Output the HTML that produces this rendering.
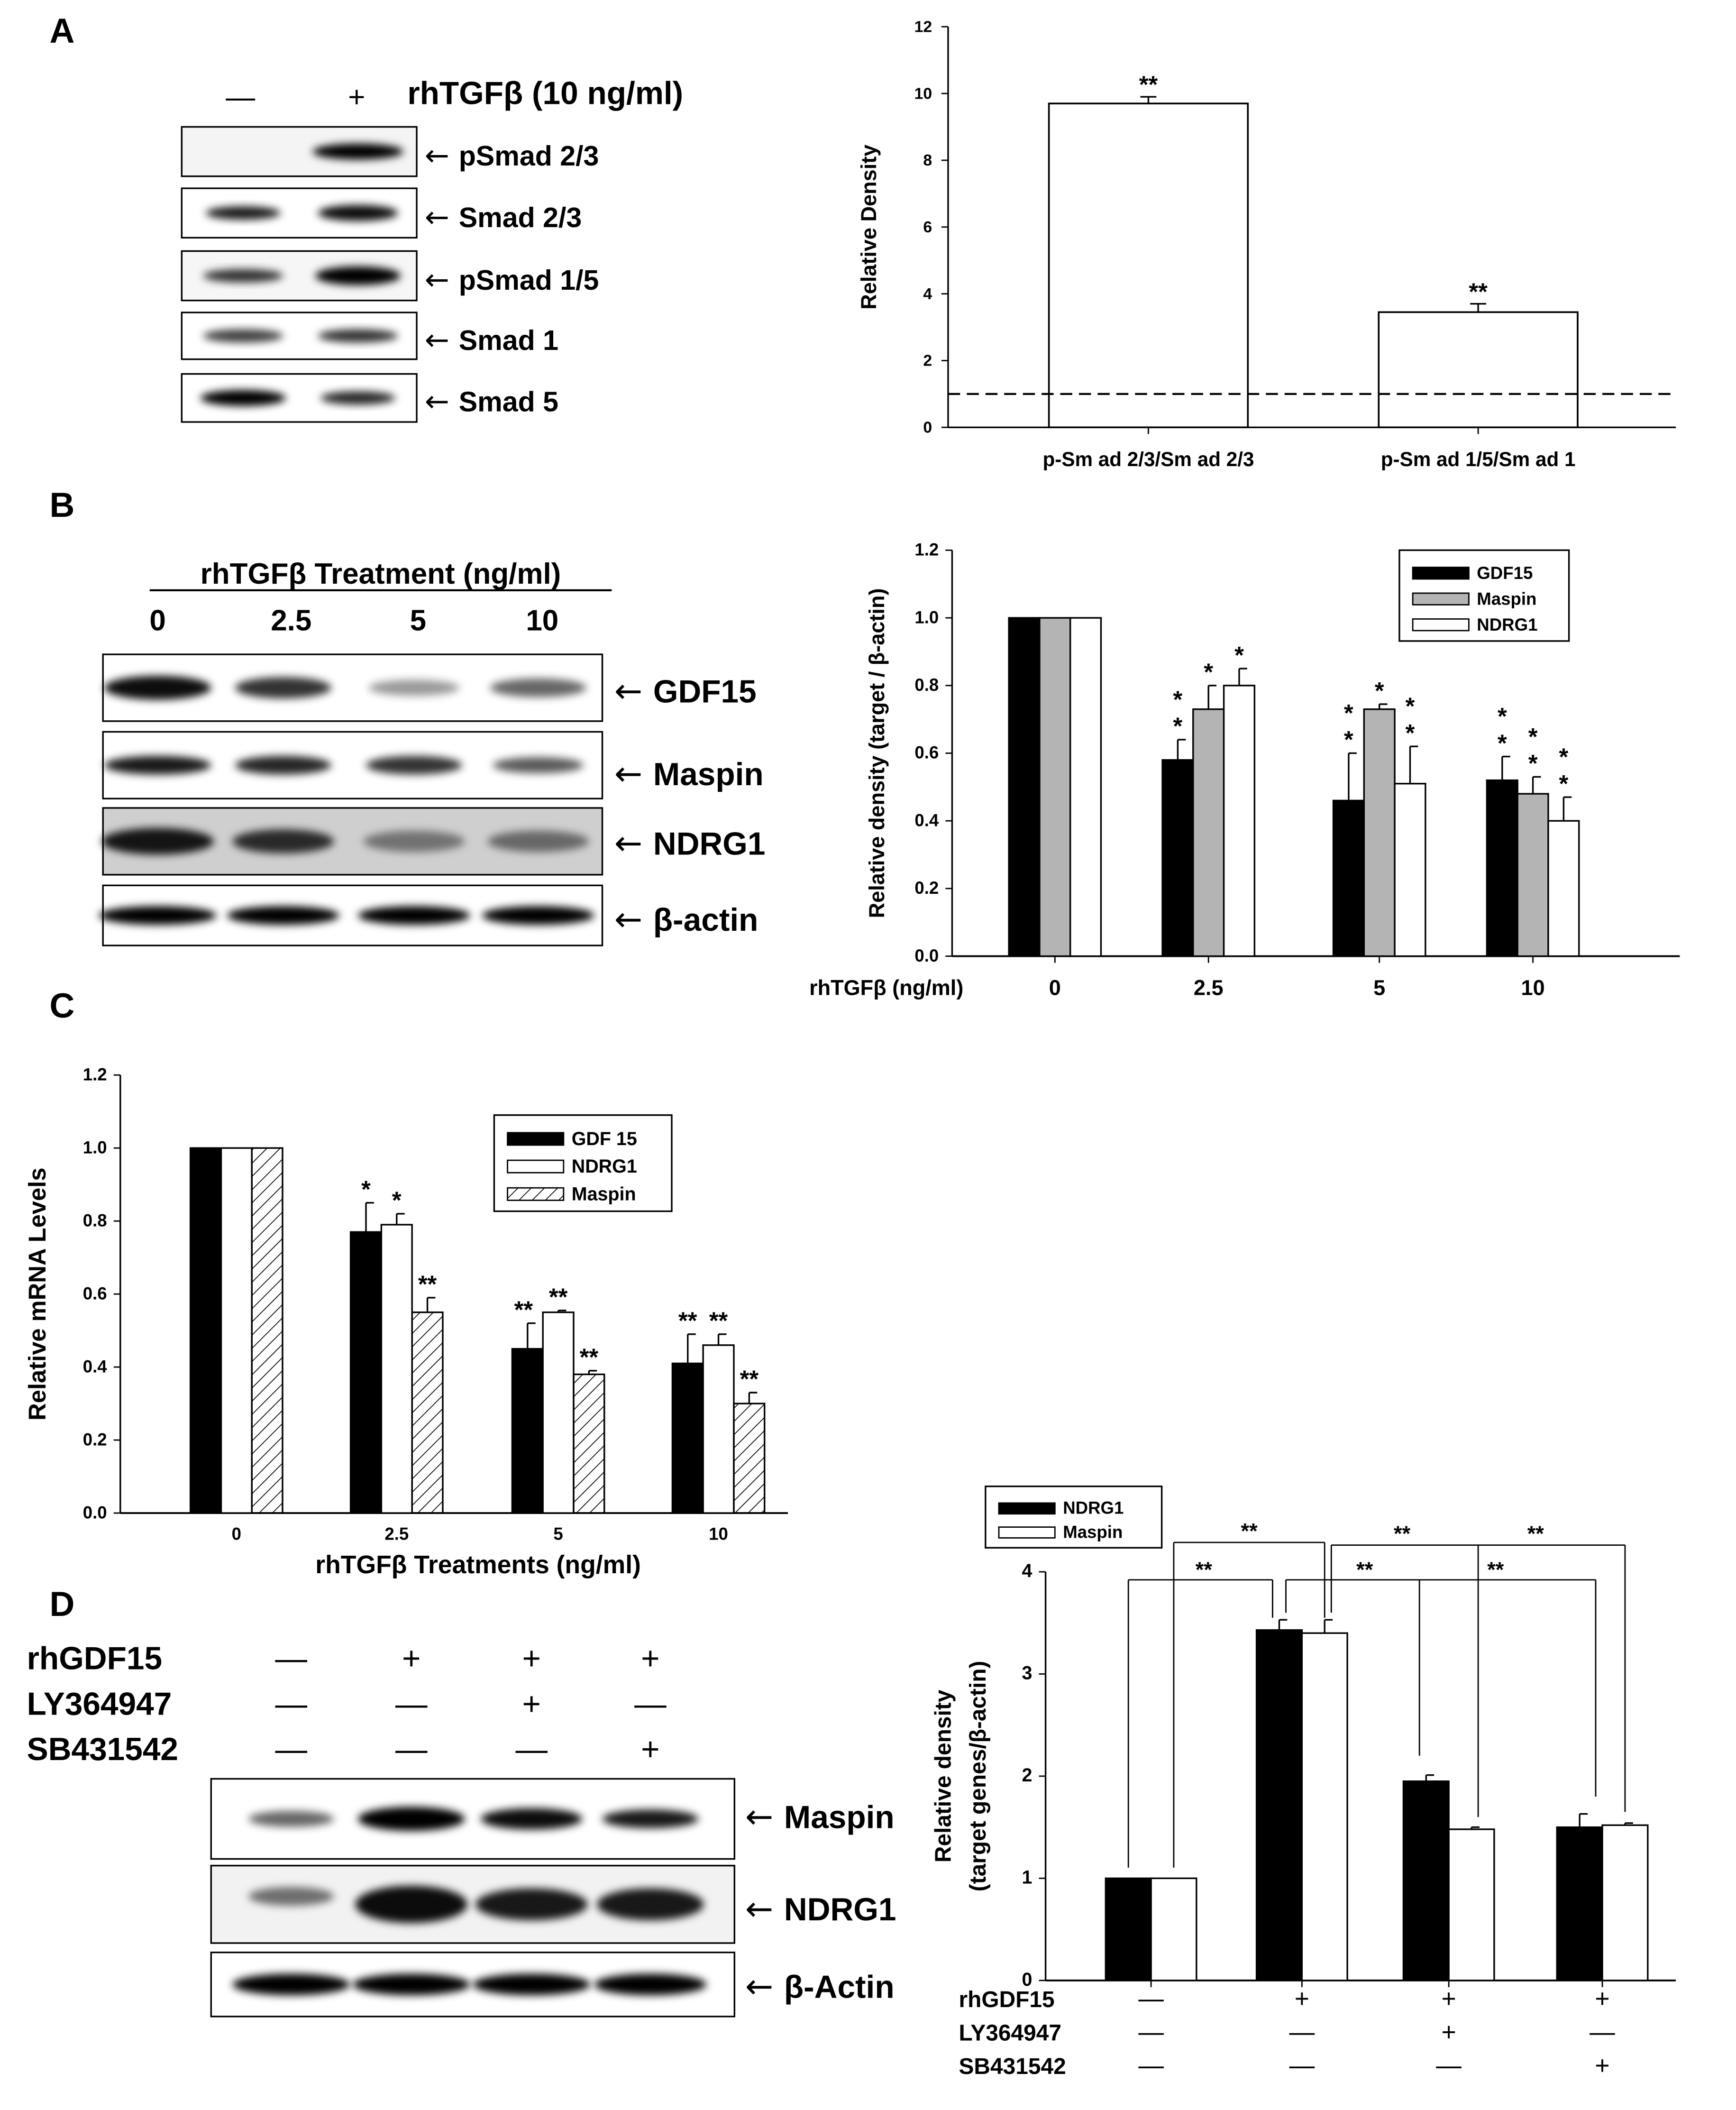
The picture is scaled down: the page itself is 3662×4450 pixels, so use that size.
<!DOCTYPE html>
<html><head><meta charset="utf-8">
<style>
html,body{margin:0;padding:0;background:#fff;}
svg{display:block;font-family:"Liberation Sans",Arial,sans-serif;}
</style></head>
<body>
<svg id="fig" width="3662" height="4450" viewBox="0 0 1300 1580" xmlns="http://www.w3.org/2000/svg">
<defs>
<filter id="blur" x="-20%" y="-50%" width="140%" height="200%"><feGaussianBlur stdDeviation="3"/></filter>
<pattern id="hatch" width="7" height="7" patternUnits="userSpaceOnUse" patternTransform="rotate(45)">
<line x1="0" y1="0" x2="0" y2="7" stroke="#000" stroke-width="1.2"/></pattern>
</defs>
<g id="root"></g>
</svg>
<script>
// ---------- DATA ----------
const aCats = ["p-Sm ad 2/3/Sm ad 2/3","p-Sm ad 1/5/Sm ad 1"];
const aVals = [9.7, 3.45];
const aErr = [0.2, 0.25];
const aTicks = [0,2,4,6,8,10,12];

const bCats = ["0","2.5","5","10"];
const bGDF15 = [1,0.58,0.46,0.52];
const bMaspin = [1,0.73,0.73,0.48];
const bNDRG1 = [1,0.80,0.51,0.40];
const bErrGDF15 = [0,0.06,0.14,0.07];
const bErrMaspin = [0,0.07,0.015,0.05];
const bErrNDRG1 = [0,0.05,0.11,0.07];
const bTicks = [0,0.2,0.4,0.6,0.8,1.0,1.2];

const cCats = ["0","2.5","5","10"];
const cGDF15 = [1,0.77,0.45,0.41];
const cNDRG1 = [1,0.79,0.55,0.46];
const cMaspin = [1,0.55,0.38,0.30];
const cErrGDF15 = [0,0.08,0.07,0.08];
const cErrNDRG1 = [0,0.03,0.005,0.03];
const cErrMaspin = [0,0.04,0.01,0.03];
const cTicks = [0,0.2,0.4,0.6,0.8,1.0,1.2];

const dNDRG1 = [1,3.43,1.95,1.50];
const dMaspin = [1,3.40,1.48,1.52];
const dErrNDRG1 = [0,0.1,0.06,0.13];
const dErrMaspin = [0,0.13,0.02,0.02];
const dTicks = [0,1,2,3,4];

// ---------- helpers ----------
const NS="http://www.w3.org/2000/svg";
const root=document.getElementById('root');
function el(tag,attrs,parent,text){const e=document.createElementNS(NS,tag);for(const k in attrs)e.setAttribute(k,attrs[k]);if(text!==undefined)e.textContent=text;(parent||root).appendChild(e);return e;}
function txt(x,y,s,size,opts,parent,name){opts=opts||{};const e=el('text',Object.assign({x:x,y:y,'font-size':size,'font-weight':opts.w||'bold','text-anchor':opts.a||'start',fill:'#000'},opts.t?{transform:opts.t}:{}),parent,s);


return e;}
function line(x1,y1,x2,y2,w,parent,dash){const e=el('line',{x1:x1,y1:y1,x2:x2,y2:y2,stroke:'#000','stroke-width':w||1.2},parent);if(dash)e.setAttribute('stroke-dasharray',dash);return e;}
function group(name){const g=el('g',{});


return g;}

function blot(x,y,w,h,bands,bg,name){
  const g=group(name);
  el('rect',{x:x,y:y,width:w,height:h,fill:bg||'#fff',stroke:'#000','stroke-width':1.2},g);
  bands.forEach(b=>{
    el('ellipse',{cx:b[0],cy:y+h/2+(b[4]||0),rx:b[1],ry:b[2],fill:'#000','fill-opacity':b[3],filter:'url(#blur)'},g);
  });
  return g;
}
function arrowLabel(x,y,s,size,name){
  const t=txt(x,y,'',size,{},null,name);
  const a=el('tspan',{'font-family':'DejaVu Sans','font-weight':'normal','font-size':size*1.05},t,'← ');
  el('tspan',{},t,s);
}

// ---------- Panel A ----------
txt(37,32,'A',26,{},null,'panel-a-letter');
txt(180,80,'—',22,{w:'normal',a:'middle'},null,'lane-minus');
txt(267,80,'+',22,{w:'normal',a:'middle'},null,'lane-plus');
txt(305,78,'rhTGFβ  (10 ng/ml)',24,{},null,'treatment-label');
blot(136,95,176,37,[[268,34,6,1]],'#f4f4f4','blot-psmad23');arrowLabel(318,124,'pSmad 2/3',21,'label-psmad23');
blot(136,141,176,37,[[182,28,5,0.9],[268,30,6,0.95]],'#fff','blot-smad23');arrowLabel(318,170,'Smad 2/3',21,'label-smad23');
blot(136,188,176,37,[[182,30,5,0.8],[268,32,7,1]],'#f6f6f6','blot-psmad15');arrowLabel(318,217,'pSmad 1/5',21,'label-psmad15');
blot(136,234,176,35,[[182,30,5,0.75],[268,30,5,0.8]],'#fff','blot-smad1');arrowLabel(318,262,'Smad 1',21,'label-smad1');
blot(136,280,176,36,[[182,32,6,1],[268,28,5,0.85]],'#fff','blot-smad5');arrowLabel(318,308,'Smad 5',21,'label-smad5');

(function(){
  const g=group('chart-a');
  const x0=710,x1=1255,y0=320,yTop=20,max=12;
  const ys=v=>y0-(v/max)*(y0-yTop);
  line(x0,yTop,x0,y0,1.2,g);line(x0,y0,x1,y0,1.2,g);
  aTicks.forEach(t=>{line(x0-5,ys(t),x0,ys(t),1,g);txt(x0-12,ys(t)+4,String(t),12,{a:'end'},g,'y-tick-label');});
  const centers=[860,1107],bw=149;
  aVals.forEach((v,i)=>{
    const r=el('rect',{x:centers[i]-bw/2,y:ys(v),width:bw,height:y0-ys(v),fill:'#fff',stroke:'#000','stroke-width':1.3},g);
    
    
    line(centers[i],ys(v),centers[i],ys(v+aErr[i]),1.2,g);line(centers[i]-6,ys(v+aErr[i]),centers[i]+6,ys(v+aErr[i]),1.2,g);
    txt(centers[i],ys(v+aErr[i])-3,'**',18,{a:'middle'},g,'significance');
    line(centers[i],y0,centers[i],y0+5,1,g);
    txt(centers[i],349,aCats[i],15,{a:'middle'},g,'x-category-label');
  });
  line(x0,ys(1),x1,ys(1),1.5,g,'9,5');
  txt(656,170,'Relative Density',16,{a:'middle',t:'rotate(-90 656 170)'},g,'y-axis-title');
})();

// ---------- Panel B ----------
txt(37,387,'B',26,{},null,'panel-b-letter');
txt(285,437,'rhTGFβ Treatment (ng/ml)',22,{a:'middle'},null,'treatment-title');
line(112,442,458,442,1.5);
[[118,'0'],[218,'2.5'],[313,'5'],[406,'10']].forEach(p=>txt(p[0],472,p[1],22,{a:'middle'},null,'dose-label'));
blot(77,490,374,50,[[118,40,9,0.95],[212,36,8,0.8],[310,34,6,0.4],[403,36,7,0.6]],'#fff','blot-gdf15');arrowLabel(460,526,'GDF15',24,'label-gdf15');
blot(77,548,374,50,[[118,40,7,0.9],[212,36,7,0.85],[310,36,7,0.8],[403,34,6,0.65]],'#fff','blot-maspin');arrowLabel(460,588,'Maspin',24,'label-maspin');
blot(77,605,374,50,[[118,42,10,0.9],[212,38,9,0.8],[310,38,8,0.45],[403,38,8,0.5]],'#cfcfcf','blot-ndrg1');arrowLabel(460,640,'NDRG1',24,'label-ndrg1');
blot(77,663,374,45,[[118,44,7,1],[212,42,7,1],[310,42,7,1],[403,42,7,1]],'#fff','blot-bactin-b');arrowLabel(460,697,'β-actin',24,'label-bactin');

function groupedChart(cfg){
  const g=group(cfg.name);
  const ys=v=>cfg.y0-(v/cfg.max)*(cfg.y0-cfg.yTop);
  line(cfg.x0,cfg.yTop,cfg.x0,cfg.y0,1.2,g);line(cfg.x0,cfg.y0,cfg.x1,cfg.y0,1.4,g);
  cfg.ticks.forEach(t=>{line(cfg.x0-5,ys(t),cfg.x0,ys(t),1,g);txt(cfg.x0-10,ys(t)+4,cfg.fmt(t),cfg.tickSize,{a:'end'},g,'y-tick-label');});
  const n=cfg.series.length;
  cfg.centers.forEach((c,i)=>{
    cfg.series.forEach((s,j)=>{
      const v=s.vals[i],bx=c-n*cfg.bw/2+j*cfg.bw;
      const r=el('rect',{x:bx,y:ys(v),width:cfg.bw,height:cfg.y0-ys(v),fill:s.fill,stroke:'#000','stroke-width':1.2},g);
      
      
      const e=s.err[i];
      if(e>0){const cx=bx+cfg.bw/2;line(cx,ys(v),cx,ys(v+e),1.2,g);line(cx,ys(v+e),cx+6,ys(v+e),1.2,g);}
      if(s.stars&&s.stars[i]){s.stars[i].forEach((st,k)=>txt(bx+cfg.bw/2+(st.dx||0),ys(v+e)-4-k*20,st.s,st.size||18,{a:'middle'},g,'significance'));}
    });
    if(cfg.tickDown)line(c,cfg.y0,c,cfg.y0+5,1,g);
    if(cfg.cats)txt(c,cfg.catY,cfg.cats[i],cfg.catSize,{a:'middle'},g,'x-category-label');
  });
  return {g:g,ys:ys};
}
function legend(g,x,y,w,h,items,size){
  const lg=el('g',{},g);
  
  
  el('rect',{x:x,y:y,width:w,height:h,fill:'#fff',stroke:'#000','stroke-width':1.2},lg);
  const step=(h-10)/items.length;
  items.forEach((it,i)=>{
    const yy=y+8+i*step;
    el('rect',{x:x+10,y:yy+step*0.25,width:42,height:step*0.45,fill:it.fill,stroke:'#000','stroke-width':1},lg);
    txt(x+58,yy+step*0.7,it.label,size,{},lg,'legend-entry');
  });
}

(function(){
  const S1=[{s:'*'},{s:'*'}];
  const r=groupedChart({name:'chart-b',x0:713,x1:1258,y0:716,yTop:412,max:1.2,ticks:bTicks,fmt:t=>t.toFixed(1),tickSize:13,
    centers:[790,905,1033,1148],bw:23,cats:bCats,catY:745,catSize:16,tickDown:true,
    series:[
      {key:'gdf15',vals:bGDF15,err:bErrGDF15,fill:'#000',stars:[null,S1,S1,S1]},
      {key:'maspin',vals:bMaspin,err:bErrMaspin,fill:'#b4b4b4',stars:[null,[{s:'*'}],[{s:'*'}],S1]},
      {key:'ndrg1',vals:bNDRG1,err:bErrNDRG1,fill:'#fff',stars:[null,[{s:'*'}],S1,S1]}
    ]});
  legend(r.g,1048,412,127,68,[{fill:'#000',label:'GDF15'},{fill:'#b4b4b4',label:'Maspin'},{fill:'#fff',label:'NDRG1'}],13);
  txt(606,745,'rhTGFβ (ng/ml)',16,{},r.g,'x-axis-title');
  txt(662,564,'Relative density (target / β-actin)',16,{a:'middle',t:'rotate(-90 662 564)'},r.g,'y-axis-title');
})();

// ---------- Panel C ----------
txt(37,762,'C',26,{},null,'panel-c-letter');
(function(){
  const r=groupedChart({name:'chart-c',x0:90,x1:590,y0:1133,yTop:805,max:1.2,ticks:cTicks,fmt:t=>t.toFixed(1),tickSize:13,
    centers:[177,297,418,538],bw:23,cats:cCats,catY:1153,catSize:13,tickDown:false,
    series:[
      {key:'gdf15',vals:cGDF15,err:cErrGDF15,fill:'#000',stars:[null,[{s:'*'}],[{s:'**',dx:-3}],[{s:'**'}]]},
      {key:'ndrg1',vals:cNDRG1,err:cErrNDRG1,fill:'#fff',stars:[null,[{s:'*'}],[{s:'**'}],[{s:'**'}]]},
      {key:'maspin',vals:cMaspin,err:cErrMaspin,fill:'url(#hatch)',stars:[null,[{s:'**'}],[{s:'**'}],[{s:'**'}]]}
    ]});
  legend(r.g,370,835,133,72,[{fill:'#000',label:'GDF 15'},{fill:'#fff',label:'NDRG1'},{fill:'url(#hatch)',label:'Maspin'}],14);
  txt(358,1178,'rhTGFβ Treatments (ng/ml)',19,{a:'middle'},r.g,'x-axis-title');
  txt(34,969,'Relative mRNA Levels',18,{a:'middle',t:'rotate(-90 34 969)'},r.g,'y-axis-title');
})();

// ---------- Panel D ----------
txt(37,1210,'D',26,{},null,'panel-d-letter');
const dSigns=[['—','+','+','+'],['—','—','+','—'],['—','—','—','+']];
const dRows=['rhGDF15','LY364947','SB431542'];
[1250,1284,1318].forEach((y,ri)=>{
  txt(20,y,dRows[ri],24,{},null,'treatment-row-label');
  [218,308,398,487].forEach((x,ci)=>txt(x,y,dSigns[ri][ci],24,{w:'normal',a:'middle'},null,'treatment-sign'));
});
blot(158,1332,392,60,[[218,32,6,0.6],[308,40,9,1],[398,38,8,0.95],[487,36,7,0.9]],'#fff','blot-maspin-d');arrowLabel(558,1369,'Maspin',24,'label-maspin-d');
blot(158,1397,392,58,[[218,32,7,0.55,-6],[308,42,14,0.95],[398,42,12,0.9],[487,40,12,0.9]],'#f2f2f2','blot-ndrg1-d');arrowLabel(558,1438,'NDRG1',24,'label-ndrg1-d');
blot(158,1462,392,48,[[218,44,8,1],[308,44,8,1],[398,44,8,1],[487,42,8,1]],'#fff','blot-bactin-d');arrowLabel(558,1496,'β-Actin',24,'label-bactin-d');

(function(){
  const centers=[862,975,1085,1200],bw=34;
  const r=groupedChart({name:'chart-d',x0:783,x1:1255,y0:1483,yTop:1177,max:4,ticks:dTicks,fmt:t=>String(t),tickSize:14,
    centers:centers,bw:bw,cats:null,tickDown:true,
    series:[
      {key:'ndrg1',vals:dNDRG1,err:dErrNDRG1,fill:'#000'},
      {key:'maspin',vals:dMaspin,err:dErrMaspin,fill:'#fff'}
    ]});
  const g=r.g;
  legend(g,738,1113,132,46,[{fill:'#000',label:'NDRG1'},{fill:'#fff',label:'Maspin'}],13);
  const bx=(i,j)=>centers[i]-bw+j*bw+bw/2;
  const yHi=1155,yLo=1183;
  line(bx(0,1),r.ys(1)-8,bx(0,1),yHi,1,g);line(bx(0,1),yHi,bx(1,1),yHi,1,g);line(bx(1,1),yHi,bx(1,1),r.ys(3.55),1,g);
  txt((bx(0,1)+bx(1,1))/2,1152,'**',16,{a:'middle'},g,'significance');
  line(bx(0,0),r.ys(1)-8,bx(0,0),yLo,1,g);line(bx(0,0),yLo,bx(1,0)-5,yLo,1,g);line(bx(1,0)-5,yLo,bx(1,0)-5,r.ys(3.55),1,g);
  txt((bx(0,0)+bx(1,0))/2,1181,'**',16,{a:'middle'},g,'significance');
  line(bx(1,1)+5,r.ys(3.6),bx(1,1)+5,yHi+2,1,g);line(bx(1,1)+5,yHi+2,bx(3,1),yHi+2,1,g);
  line(bx(2,1)+5,yHi+2,bx(2,1)+5,r.ys(1.6),1,g);line(bx(3,1),yHi+2,bx(3,1),r.ys(1.65),1,g);
  txt(1050,1154,'**',16,{a:'middle'},g,'significance');txt(1150,1154,'**',16,{a:'middle'},g,'significance');
  line(bx(1,0)+5,r.ys(3.6),bx(1,0)+5,yLo,1,g);line(bx(1,0)+5,yLo,bx(3,0)+12,yLo,1,g);
  line(bx(2,0)-5,yLo,bx(2,0)-5,r.ys(2.2),1,g);line(bx(3,0)+12,yLo,bx(3,0)+12,r.ys(1.8),1,g);
  txt(1022,1181,'**',16,{a:'middle'},g,'significance');txt(1120,1181,'**',16,{a:'middle'},g,'significance');
  [1503,1528,1553].forEach((y,ri)=>{
    txt(718,y,dRows[ri],17,{},g,'treatment-row-label');
    centers.forEach((c,ci)=>txt(c,y,dSigns[ri][ci],19,{w:'normal',a:'middle'},g,'treatment-sign'));
  });
  txt(712,1330,'Relative density',17,{a:'middle',t:'rotate(-90 712 1330)'},g,'y-axis-title');
  txt(738,1330,'(target genes/β-actin)',17,{a:'middle',t:'rotate(-90 738 1330)'},g,'y-axis-title-sub');
})();
</script>
</body></html>
